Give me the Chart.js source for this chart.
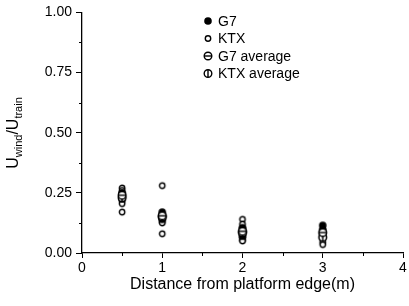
<!DOCTYPE html>
<html>
<head>
<meta charset="utf-8">
<script src="https://cdn.jsdelivr.net/npm/chart.js@4.4.0/dist/chart.umd.min.js"></script>
<style>
  html, body { margin: 0; padding: 0; background: #fff; }
  #wrap { width: 409px; height: 306px; }
</style>
</head>
<body>
<div id="wrap"><canvas id="chart"></canvas></div>
<script>
// distances from platform edge (m)
const distances = [0.5, 1, 2, 3];
// one list per distance
const g7Values = [
  [0.25, 0.245, 0.24, 0.235, 0.23, 0.225],
  [0.17, 0.16, 0.155, 0.15, 0.145, 0.14],
  [0.105, 0.1, 0.09, 0.085, 0.08, 0.07],
  [0.115, 0.095, 0.085, 0.075, 0.065]
];
const ktxValues = [
  [0.27, 0.26, 0.25, 0.215, 0.205, 0.17],
  [0.28, 0.15, 0.13, 0.125, 0.08],
  [0.14, 0.12, 0.065, 0.055, 0.05],
  [0.1, 0.08, 0.06, 0.045, 0.035]
];
const g7Average = [0.24, 0.155, 0.09, 0.085];
const ktxAverage = [0.23, 0.15, 0.085, 0.065];
const xTicks = [0, 1, 2, 3, 4];
const yTicks = [0, 0.25, 0.5, 0.75, 1];
const legendLabels = ['G7', 'KTX', 'G7 average', 'KTX average'];

const FONT = 'Liberation Sans, Arial, Helvetica, sans-serif';

function drawMarker(ctx, kind, x, y) {
  ctx.save();
  ctx.strokeStyle = '#000';
  ctx.fillStyle = '#000';
  ctx.lineWidth = 1.4;
  ctx.beginPath();
  if (kind === 'g7') {
    ctx.arc(x, y, 3.8, 0, Math.PI * 2);
    ctx.fill();
  } else if (kind === 'ktx') {
    ctx.arc(x, y, 2.7, 0, Math.PI * 2);
    ctx.fillStyle = '#fff';
    ctx.fill();
    ctx.stroke();
  } else {
    ctx.arc(x, y, 3.8, 0, Math.PI * 2);
    ctx.fillStyle = '#fff';
    ctx.fill();
    ctx.stroke();
    ctx.beginPath();
    if (kind === 'g7avg') { ctx.moveTo(x - 3.8, y); ctx.lineTo(x + 3.8, y); }
    else { ctx.moveTo(x, y - 3.8); ctx.lineTo(x, y + 3.8); }
    ctx.stroke();
  }
  ctx.restore();
}

function makeIcon(kind) {
  const c = document.createElement('canvas');
  c.width = 12; c.height = 12;
  drawMarker(c.getContext('2d'), kind, 6, 6);
  return c;
}

function spread(lists) {
  const pts = [];
  lists.forEach((vals, i) => vals.forEach(v => pts.push({ x: distances[i], y: v })));
  return pts;
}

const kinds = ['g7', 'ktx', 'g7avg', 'ktxavg'];

const extras = {
  id: 'extras',
  afterDraw(chart) {
    const ctx = chart.ctx;
    const xs = chart.scales.x, ys = chart.scales.y;
    ctx.save();
    ctx.strokeStyle = '#000';
    ctx.lineWidth = 1;
    // minor ticks
    [0.5, 1.5, 2.5, 3.5].forEach(v => {
      const px = Math.round(xs.getPixelForValue(v)) + 0.5;
      ctx.beginPath(); ctx.moveTo(px, ys.bottom); ctx.lineTo(px, ys.bottom + 3); ctx.stroke();
    });
    [0.125, 0.375, 0.625, 0.875].forEach(v => {
      const py = Math.round(ys.getPixelForValue(v)) + 0.5;
      ctx.beginPath(); ctx.moveTo(xs.left - 3, py); ctx.lineTo(xs.left, py); ctx.stroke();
    });

    // legend
    ctx.font = '14px ' + FONT;
    ctx.fillStyle = '#000';
    ctx.textBaseline = 'middle';
    ctx.textAlign = 'left';
    legendLabels.forEach((lab, i) => {
      const y = 21 + i * 17.5;
      drawMarker(ctx, kinds[i], 208, y);
      ctx.fillText(lab, 218, y + 1);
    });

    // y axis title with subscripts
    const parts = [['U', 16, 0], ['wind', 11, 4], ['/U', 16, 0], ['train', 11, 4]];
    let total = 0;
    parts.forEach(p => { ctx.font = p[1] + 'px ' + FONT; total += ctx.measureText(p[0]).width; });
    ctx.translate(18, 133);
    ctx.rotate(-Math.PI / 2);
    ctx.textBaseline = 'alphabetic';
    let cx = -total / 2;
    parts.forEach(p => {
      ctx.font = p[1] + 'px ' + FONT;
      ctx.fillText(p[0], cx, p[2]);
      cx += ctx.measureText(p[0]).width;
    });
    ctx.restore();
  }
};

new Chart(document.getElementById('chart'), {
  type: 'scatter',
  data: {
    datasets: [
      { label: 'G7 average', data: g7Average.map((v, i) => ({ x: distances[i], y: v })), pointStyle: makeIcon('g7avg') },
      { label: 'KTX average', data: ktxAverage.map((v, i) => ({ x: distances[i], y: v })), pointStyle: makeIcon('ktxavg') },
      { label: 'G7', data: spread(g7Values), pointStyle: makeIcon('g7') },
      { label: 'KTX', data: spread(ktxValues), pointStyle: makeIcon('ktx') }
    ]
  },
  options: {
    responsive: true,
    maintainAspectRatio: false,
    animation: false,
    layout: { padding: { top: 12, right: 6, left: 0, bottom: 0 } },
    plugins: { legend: { display: false }, tooltip: { enabled: false } },
    scales: {
      x: {
        type: 'linear', min: 0, max: 4,
        afterFit: s => { s.height = 53; },
        afterBuildTicks: s => { s.ticks = xTicks.map(v => ({ value: v })); },
        ticks: { color: '#000', font: { family: FONT, size: 14 }, padding: 2, maxRotation: 0 },
        grid: { drawOnChartArea: false, drawTicks: true, tickLength: 5, color: '#000' },
        border: { display: true, color: '#000', width: 1.3 },
        title: { display: true, text: 'Distance from platform edge(m)', color: '#000',
                 font: { family: FONT, size: 16 }, padding: { top: 0, bottom: 12 } }
      },
      y: {
        type: 'linear', min: 0, max: 1,
        afterFit: s => { s.width = 82; },
        afterBuildTicks: s => { s.ticks = yTicks.map(v => ({ value: v })); },
        ticks: { color: '#000', font: { family: FONT, size: 14 }, padding: 4, callback: v => v.toFixed(2) },
        grid: { drawOnChartArea: false, drawTicks: true, tickLength: 6, color: '#000' },
        border: { display: true, color: '#000', width: 1.3 }
      }
    }
  },
  plugins: [extras]
});
</script>
</body>
</html>
